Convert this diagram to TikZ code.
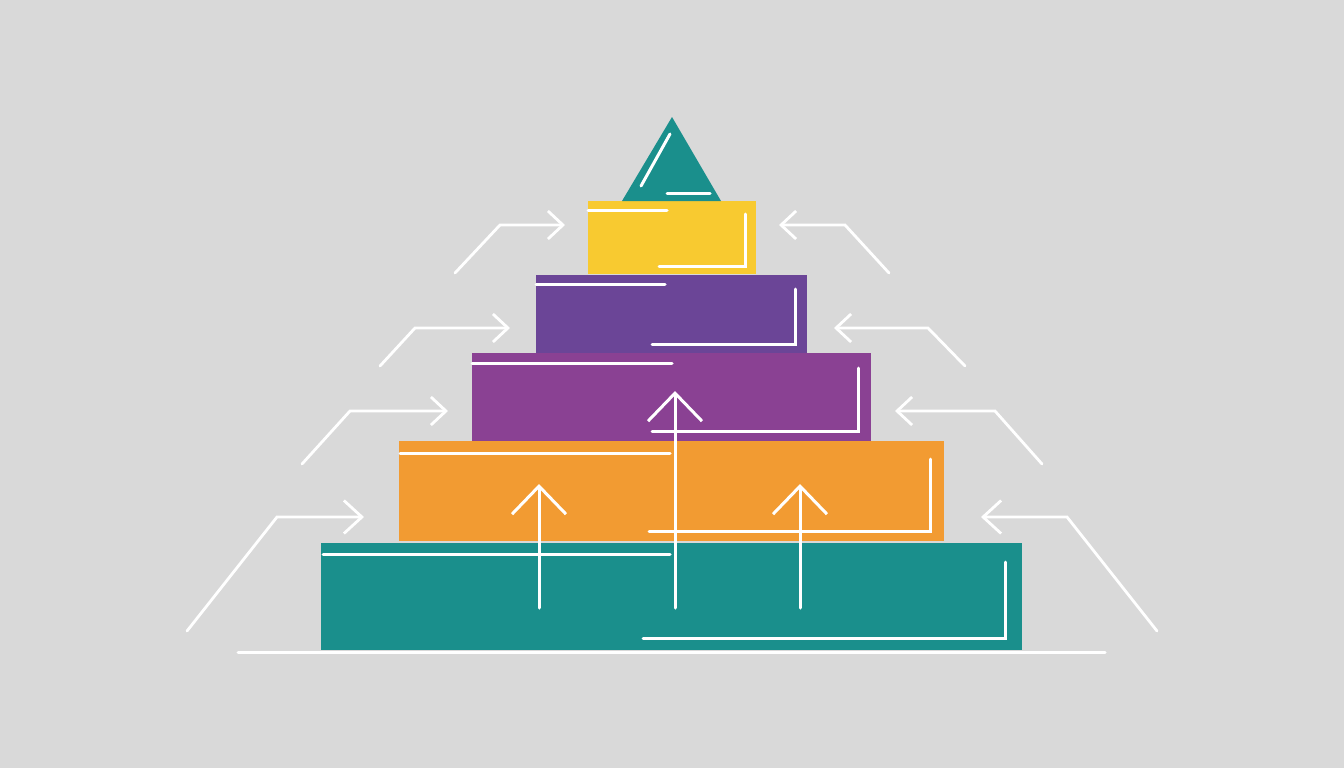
\documentclass[tikz,border=0pt]{standalone}
\usepackage{tikz}
\usetikzlibrary{arrows.meta}
\definecolor{colorBG}{HTML}{D9D9D9}
\definecolor{colorBase}{HTML}{1A8F8C}
\definecolor{colorOrange}{HTML}{F29B32}
\definecolor{colorPlum}{HTML}{8A4193}
\definecolor{colorViolet}{HTML}{6B4597}
\definecolor{colorYellow}{HTML}{F8CA30}
\tikzset{
   every path/.style={line cap=round},
   tier/.style={rectangle,inner sep=0pt,anchor=north west},
   trim/.style={draw=white,line width=3pt},
   climb/.style={-{Straight Barb[length=15pt,width=28pt]},white,line width=2.8pt},
   climbbig/.style={-{Straight Barb[length=18pt,width=33pt]},white,line width=2.8pt},
   rise/.style={-{Straight Barb[length=28pt,width=54pt]},white,line width=3pt},
}

\begin{document}
\begin{tikzpicture}[x=1pt, y=-1pt]
  \fill[colorBG] (0,0) rectangle (1344,768);
  \useasboundingbox (0,0) rectangle (1344,768);

  \node[tier, fill=colorBase,   minimum width=701pt, minimum height=107pt] (base)   at (321,543) {};
  \node[tier, fill=colorOrange, minimum width=545pt, minimum height=100pt] (orange) at (399,441) {};
  \node[tier, fill=colorPlum,   minimum width=399pt, minimum height=88pt]  (plum)   at (472,353) {};
  \node[tier, fill=colorViolet, minimum width=271pt, minimum height=78pt]  (violet) at (536,275) {};
  \node[tier, fill=colorYellow, minimum width=168pt, minimum height=73pt]  (yellow) at (588,201) {};

  \coordinate (apex) at (672,117);
  \fill[colorBase] (622,201) -- (apex) -- (721,201) -- cycle;

  %% ground
  \coordinate (g1) at (238,652);
  \coordinate (g2) at (1105,652);
  \draw[trim] (g1) -- (g2);

  %% strokes on the tiers
  \draw[trim] (323,554) -- (670,554);
  \draw[trim] (643,638) -- (1005,638) -- (1005,562);
  \draw[trim] (400,453) -- (670,453);
  \draw[trim] (649,531) -- (930,531) -- (930,459);
  \draw[trim] (472,363) -- (672,363);
  \draw[trim] (652,431) -- (858,431) -- (858,368);
  \draw[trim] (536,284) -- (665,284);
  \draw[trim] (652,344) -- (795,344) -- (795,289);
  \draw[trim] (588,210) -- (667,210);
  \draw[trim] (659,266) -- (745,266) -- (745,214);
  \draw[trim] (641,186) -- (670,134);
  \draw[trim] (667,193) -- (710,193);

  %% rising arrows
  \coordinate (r1) at (539,608);  \coordinate (r1t) at (539,484);
  \coordinate (r2) at (675,608);  \coordinate (r2t) at (675,391);
  \coordinate (r3) at (800,608);  \coordinate (r3t) at (800,484);
  \draw[rise] (r1) -- (r1t);
  \draw[rise] (r2) -- (r2t);
  \draw[rise] (r3) -- (r3t);

  %% left side
  \coordinate (la1) at (455,273); \coordinate (lb1) at (500,225); \coordinate (lc1) at (565,225);
  \coordinate (la2) at (380,366); \coordinate (lb2) at (415,328); \coordinate (lc2) at (510,328);
  \coordinate (la3) at (302,464); \coordinate (lb3) at (350,411); \coordinate (lc3) at (448,411);
  \coordinate (la4) at (187,631); \coordinate (lb4) at (277,517); \coordinate (lc4) at (364,517);
  \draw[climb]    (la1) -- (lb1) -- (lc1);
  \draw[climb]    (la2) -- (lb2) -- (lc2);
  \draw[climb]    (la3) -- (lb3) -- (lc3);
  \draw[climbbig] (la4) -- (lb4) -- (lc4);

  %% right side
  \coordinate (ra1) at (889,273);  \coordinate (rb1) at (845,225);  \coordinate (rc1) at (779,225);
  \coordinate (ra2) at (965,366);  \coordinate (rb2) at (928,328);  \coordinate (rc2) at (834,328);
  \coordinate (ra3) at (1042,464); \coordinate (rb3) at (995,411);  \coordinate (rc3) at (895,411);
  \coordinate (ra4) at (1157,631); \coordinate (rb4) at (1067,517); \coordinate (rc4) at (981,517);
  \draw[climb]    (ra1) -- (rb1) -- (rc1);
  \draw[climb]    (ra2) -- (rb2) -- (rc2);
  \draw[climb]    (ra3) -- (rb3) -- (rc3);
  \draw[climbbig] (ra4) -- (rb4) -- (rc4);
\end{tikzpicture}
\end{document}
